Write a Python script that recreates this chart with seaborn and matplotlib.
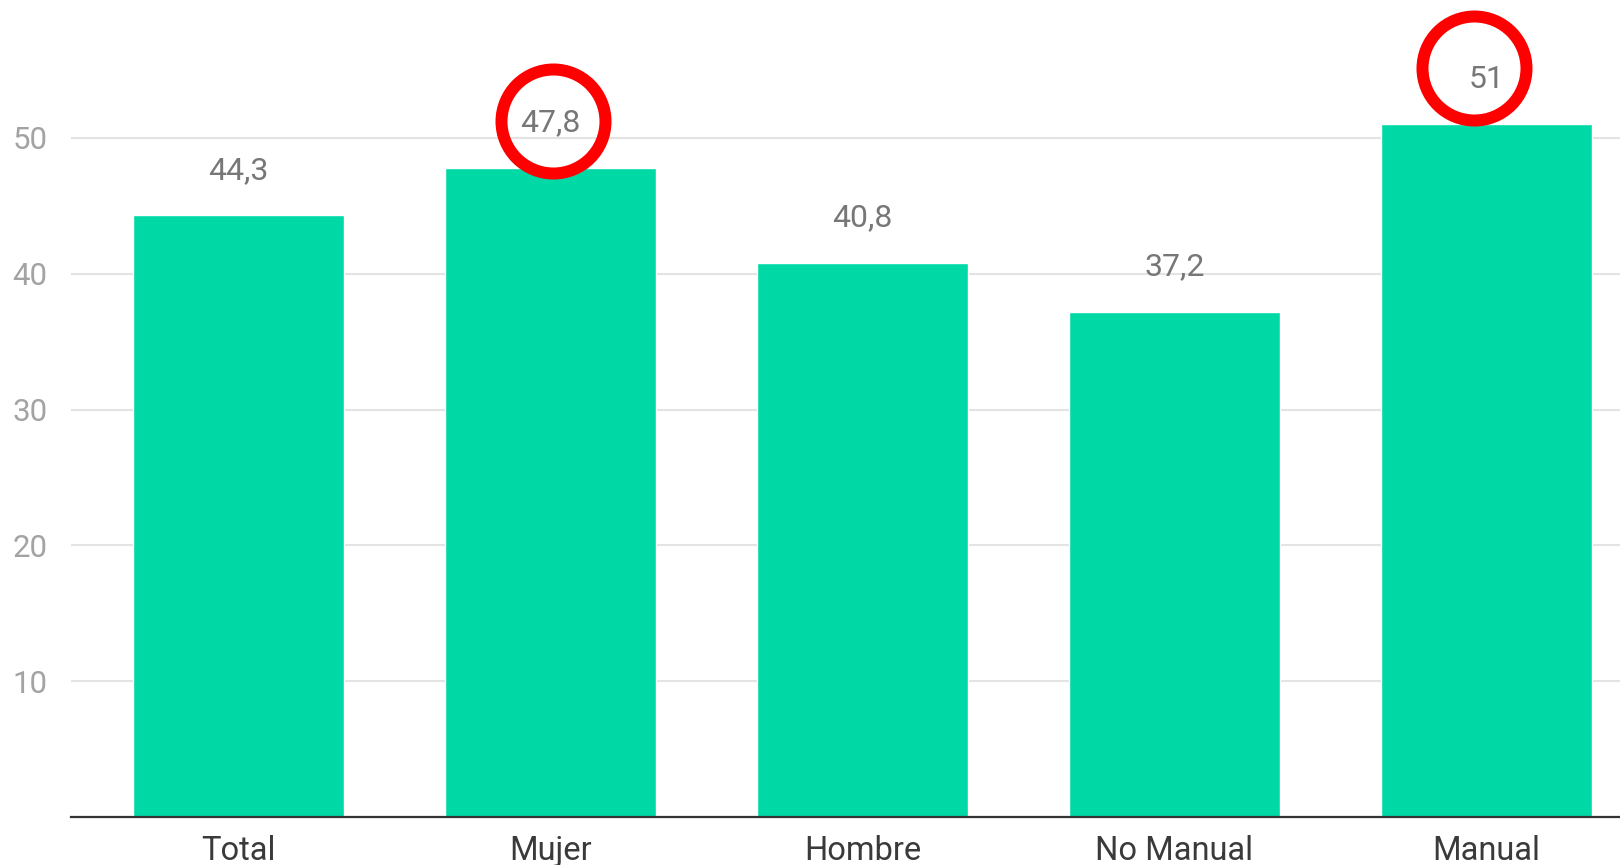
import matplotlib
matplotlib.use("Agg")
import matplotlib.pyplot as plt
import matplotlib.transforms as mtransforms
import seaborn as sns
import pandas as pd

categories = ["Total", "Mujer", "Hombre", "No Manual", "Manual"]
values = [44.3, 47.8, 40.8, 37.2, 51.0]
value_labels = ["44,3", "47,8", "40,8", "37,2", "51"]
highlighted = ["Mujer", "Manual"]
y_ticks = [10, 20, 30, 40, 50]

sns.set_theme(style="white")
plt.rcParams["font.family"] = ["Roboto", "DejaVu Sans"]

W, H, DPI = 1620, 865, 100
fig = plt.figure(figsize=(W / DPI, H / DPI), dpi=DPI)
ax = fig.add_axes([71 / W, (H - 817) / H, 1 - 71 / W, 817 / H])

df = pd.DataFrame({"cat": categories, "val": values})
sns.barplot(data=df, x="cat", y="val", color="#00D9A6", saturation=1,
            width=0.676, ax=ax, zorder=3)

ax.set_xlim(-0.537, 4.428)
ax.set_ylim(0, 60.16)
ax.set_yticks(y_ticks)
ax.set_yticklabels([str(t) for t in y_ticks])
ax.yaxis.grid(True, color="#e3e3e3", linewidth=1.5, zorder=0)
ax.set_axisbelow(True)
ax.set_xlabel("")
ax.set_ylabel("")

for s in ["top", "right", "left"]:
    ax.spines[s].set_visible(False)
ax.spines["bottom"].set_color("#333333")
ax.spines["bottom"].set_linewidth(1.6)
ax.spines["bottom"].set_zorder(5)

ax.tick_params(axis="y", length=0, pad=17, labelsize=22.5, labelcolor="#a3a3a3")
ax.tick_params(axis="x", length=0, pad=13, labelsize=23.5, labelcolor="#3a3a3a")

for i, (v, lab) in enumerate(zip(values, value_labels)):
    ax.annotate(lab, xy=(i, v), xytext=(0, 45 / DPI * 72), textcoords="offset points",
                ha="center", va="center", fontsize=23, color="#777777", zorder=6)

circle_offsets = {"Mujer": (2, 47), "Manual": (-12, 56)}
for cat in highlighted:
    i = categories.index(cat)
    dx, dy = circle_offsets[cat]
    tr = mtransforms.offset_copy(ax.transData, fig=fig, x=dx, y=dy, units="dots")
    ax.plot([i], [values[i]], marker="o", markersize=104 / DPI * 72,
            markerfacecolor="none", markeredgecolor="#ff0000",
            markeredgewidth=12 / DPI * 72, transform=tr, clip_on=False, zorder=7)

fig.savefig("out.png", dpi=DPI)
